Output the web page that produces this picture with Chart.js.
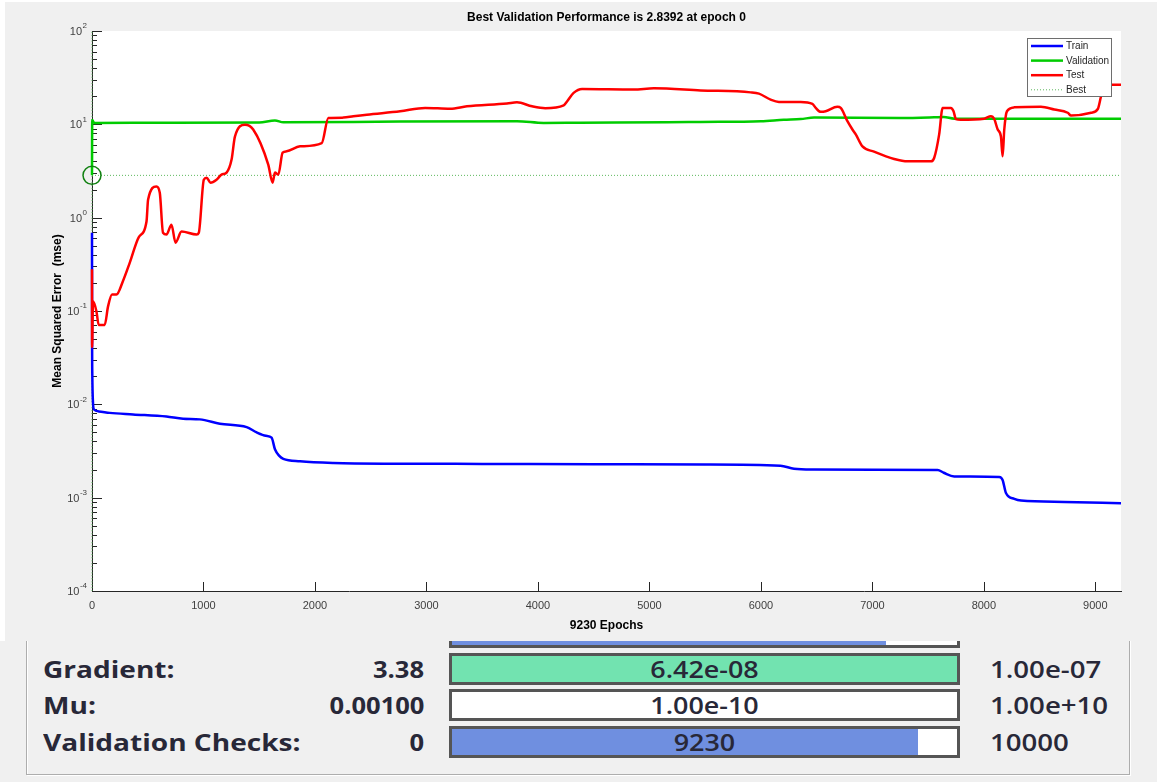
<!DOCTYPE html>
<html>
<head>
<meta charset="utf-8">
<title>Neural Network Training - Performance</title>
<script src="https://cdn.jsdelivr.net/npm/chart.js@4.4.1/dist/chart.umd.min.js"></script>
<style>
    html, body { margin: 0; padding: 0; background: #fff; }
    body { width: 1165px; height: 782px; position: relative; overflow: hidden; }
    #figure { position: absolute; left: 5px; top: 2px; width: 1152px; height: 639px; background: #f0f0f0; }
    #panel {
        position: absolute; left: 0; top: 641px; width: 1157px; height: 141px;
        background: #f0f0f0; overflow: hidden;
        font-family: "Open Sans", "Noto Sans", sans-serif; font-weight: 600; font-size: 23px; color: #282838;
    }
    .group {
        position: absolute; left: 26px; top: -40px; width: 1104px; height: 174px; box-sizing: border-box;
        border: 1px solid #adadad; box-shadow: inset 1px 1px 0 #fff, 1px 1px 0 #fff;
    }
    .row { position: absolute; left: 0; width: 1157px; height: 32px; line-height: 32px; }
    .row .t { position: absolute; top: 0; white-space: nowrap; }
    .row .lbl { left: 43px; font-weight: 700; transform: scaleX(1.22); transform-origin: left center; }
    .row .val { right: 733px; font-weight: 700; transform: scaleX(1.11); transform-origin: right center; }
    .row .goal { left: 990px; transform: scaleX(1.2); transform-origin: left center; }
    .bar {
        position: absolute; left: 449px; top: 0; width: 511px; height: 32px; box-sizing: border-box;
        border: 3px solid #555; background: #fff; overflow: hidden;
    }
    .bar .fill { position: absolute; left: 0; top: 0; bottom: 0; }
    .bar .cur {
        position: absolute; left: 0; right: 0; top: 0; line-height: 26px; text-align: center;
        font-weight: 600; transform: scaleX(1.17);
    }
</style>
</head>
<body>
<div id="figure"><canvas id="chart-perform" width="1152" height="639"></canvas></div>
<div id="panel"><div class="group"></div></div>

<script>
// ---- training record (epoch, mse) ----
const trainEpochs = [0, 1, 3, 8, 18, 60, 159, 368, 668, 817, 967, 1147, 1387, 1477, 1560, 1611, 1641, 1680, 1716,
    1866, 2165, 2764, 3500, 4500, 5500, 6175, 6297, 6477, 7000, 7585, 7640, 7734, 8138, 8168, 8198, 8273, 8333, 8722, 9230];
const trainMse = [0.69, 0.05, 0.02, 0.011, 0.0088, 0.0084, 0.0081, 0.0078, 0.0074, 0.0070, 0.0069, 0.0062, 0.0057, 0.0050,
    0.0046, 0.0044, 0.0033, 0.0028, 0.0026, 0.00245, 0.00235, 0.00231, 0.0023, 0.00228, 0.00227, 0.0022, 0.00204, 0.0020,
    0.00199, 0.00198, 0.00185, 0.00169, 0.00167, 0.00155, 0.00112, 0.00097, 0.00093, 0.0009, 0.00087];

const validEpochs = [0, 2, 20, 700, 1500, 1641, 1716, 2764, 3812, 4051, 4381, 5160, 5459, 6000, 6205, 6357, 6477,
    7255, 7554, 7640, 7734, 8500, 9230];
const validMse = [2.8392, 11.1, 10.35, 10.4, 10.45, 11.0, 10.5, 10.7, 10.8, 10.35, 10.4, 10.5, 10.6, 10.8, 11.2, 11.4,
    11.8, 11.7, 11.9, 12.0, 11.5, 11.5, 11.5];

const testEpochs = [0, 1, 9, 40, 60, 114, 144, 180, 219, 278, 339, 420, 489, 503, 578, 608, 637, 668, 713, 749, 803,
    938, 958, 1003, 1028, 1063, 1117, 1162, 1207, 1252, 1282, 1372, 1446, 1581, 1620, 1641, 1671, 1710, 1746, 1866,
    2061, 2120, 2255, 2344, 2465, 2764, 2988, 3213, 3363, 3722, 3812, 3947, 4066, 4231, 4261, 4320, 4396, 4859, 5039,
    5459, 5908, 5982, 6087, 6162, 6357, 6462, 6492, 6536, 6581, 6686, 6716, 6776, 6821, 6851, 6911, 7015, 7195, 7315,
    7524, 7554, 7599, 7630, 7704, 7728, 7749, 7793, 8003, 8063, 8093, 8124, 8153, 8168, 8183, 8207, 8273, 8512, 8632,
    8752, 8782, 8962, 9022, 9051, 9081, 9230];
const testMse = [0.28, 0.041, 0.127, 0.099, 0.071, 0.071, 0.112, 0.15, 0.15, 0.21, 0.33, 0.62, 0.91, 1.56, 2.16, 1.85,
    0.69, 0.66, 0.84, 0.54, 0.71, 0.66, 0.69, 2.55, 2.68, 2.37, 2.55, 2.89, 3.04, 4.19, 7.4, 9.9, 8.8, 3.7, 2.37, 3.04,
    2.89, 4.97, 5.14, 5.81, 6.3, 11.7, 11.8, 12.2, 12.7, 13.8, 15.0, 14.7, 15.6, 16.7, 17.2, 15.6, 14.9, 16.0, 17.6,
    21.7, 23.9, 23.6, 24.3, 23.1, 22.0, 21.3, 18.4, 17.4, 17.4, 16.6, 15.0, 13.6, 13.8, 15.4, 15.0, 10.8, 8.8, 7.8,
    5.8, 5.1, 4.26, 4.01, 4.01, 4.36, 7.8, 15.0, 15.0, 13.8, 11.4, 11.2, 11.5, 12.2, 11.4, 8.8, 7.4, 4.54, 8.8, 13.8,
    15.2, 15.4, 14.4, 13.3, 12.4, 13.3, 14.6, 20.0, 26.6, 26.6];

const bestEpoch = 0;
const bestPerf = 2.8392;
const totalEpochs = 9230;

// axis ticks
const xTicks = [0, 1000, 2000, 3000, 4000, 5000, 6000, 7000, 8000, 9000];
const yDecades = [-4, -3, -2, -1, 0, 1, 2];

// nntraintool progress rows
const panelNames = ['Performance:', 'Gradient:', 'Mu:', 'Validation Checks:'];
const panelStart = ['0.693', '3.38', '0.00100', '0'];
const panelCurrent = ['0.000866', '6.42e-08', '1.00e-10', '9230'];
const panelTarget = ['0.00', '1.00e-07', '1.00e+10', '10000'];
const panelFill = [0.86, 1.0, 0.0, 9230 / 10000];
const panelColors = ['#6f8fe0', '#72e3b0', '#ffffff', '#6f8fe0'];
const panelTops = [-25, 12, 48, 85];

const FONT = '"Liberation Sans", Arial, Helvetica, sans-serif';
Chart.defaults.font.family = FONT;

function toPoints(xs, ys) {
    return xs.map((x, i) => ({ x: x, y: ys[i] }));
}

// putih di area plot, abu-abu di luar (dari div)
const plotBackground = {
    id: 'plotBackground',
    beforeDraw(chart) {
        const { ctx, chartArea: a } = chart;
        ctx.save();
        ctx.fillStyle = '#ffffff';
        ctx.fillRect(a.left, a.top, a.right - a.left, a.bottom - a.top);
        ctx.restore();
    }
};

// matlab style ticks pointing into the axes
const innerTicks = {
    id: 'innerTicks',
    beforeDatasetsDraw(chart) {
        const { ctx, chartArea: a, scales: { x, y } } = chart;
        ctx.save();
        ctx.strokeStyle = '#262626';
        ctx.lineWidth = 1;
        ctx.beginPath();
        xTicks.forEach(v => {
            const px = Math.round(x.getPixelForValue(v)) + 0.5;
            ctx.moveTo(px, a.bottom);
            ctx.lineTo(px, a.bottom - 9);
        });
        yDecades.forEach((d, i) => {
            const py = Math.round(y.getPixelForValue(Math.pow(10, d))) + 0.5;
            ctx.moveTo(a.left, py);
            ctx.lineTo(a.left + 10, py);
            if (i < yDecades.length - 1) {
                for (let m = 2; m <= 9; m++) {
                    const pm = Math.round(y.getPixelForValue(m * Math.pow(10, d))) + 0.5;
                    ctx.moveTo(a.left, pm);
                    ctx.lineTo(a.left + 5, pm);
                }
            }
        });
        ctx.stroke();
        ctx.restore();
    }
};

// 10^n labels, title and legend box
const decorations = {
    id: 'decorations',
    afterDraw(chart) {
        const { ctx, chartArea: a, scales: { y } } = chart;
        ctx.save();

        // y tick labels with superscript exponent
        ctx.fillStyle = '#404040';
        ctx.textBaseline = 'middle';
        ctx.textAlign = 'right';
        const xr = a.left - 5;
        yDecades.forEach(d => {
            const py = y.getPixelForValue(Math.pow(10, d));
            ctx.font = '8px ' + FONT;
            const exp = String(d);
            const w = ctx.measureText(exp).width;
            ctx.fillText(exp, xr, py - 5);
            ctx.font = '11px ' + FONT;
            ctx.fillText('10', xr - w - 0.5, py + 1);
        });

        // title centered above the axes
        ctx.fillStyle = '#000';
        ctx.textAlign = 'center';
        ctx.font = 'bold 12px ' + FONT;
        ctx.fillText('Best Validation Performance is ' + bestPerf + ' at epoch ' + bestEpoch, (a.left + a.right) / 2, 15.5);

        // legend
        const items = chart.data.datasets.filter(ds => ds.inLegend);
        const bx = a.right - 94, by = a.top + 7, bw = 85, bh = 59;
        ctx.fillStyle = '#fff';
        ctx.fillRect(bx, by, bw, bh);
        ctx.strokeStyle = '#6e6e6e';
        ctx.lineWidth = 1;
        ctx.strokeRect(bx + 0.5, by + 0.5, bw - 1, bh - 1);
        ctx.textAlign = 'left';
        ctx.font = '10px ' + FONT;
        items.forEach((ds, i) => {
            const ly = by + 8 + i * 14.6;
            ctx.save();
            ctx.strokeStyle = ds.borderColor;
            ctx.lineWidth = ds.borderDash ? 1 : 2.5;
            ctx.setLineDash(ds.borderDash || []);
            ctx.beginPath();
            ctx.moveTo(bx + 4, ly);
            ctx.lineTo(bx + 36, ly);
            ctx.stroke();
            ctx.restore();
            ctx.fillStyle = '#262626';
            ctx.fillText(ds.label, bx + 39, ly + 0.5);
        });
        ctx.restore();
    }
};

const ctx = document.getElementById('chart-perform');
new Chart(ctx.getContext('2d'), {
    type: 'line',
    data: {
        datasets: [
            {
                label: 'Train', inLegend: true,
                data: toPoints(trainEpochs, trainMse),
                borderColor: '#0000ff', borderWidth: 2.5, order: 3
            },
            {
                label: 'Validation', inLegend: true,
                data: toPoints(validEpochs, validMse),
                borderColor: '#00cc00', borderWidth: 2.5, order: 2
            },
            {
                label: 'Test', inLegend: true,
                data: toPoints(testEpochs, testMse),
                borderColor: '#ff0000', borderWidth: 2.5, order: 1
            },
            {
                label: 'Best', inLegend: true,
                data: [{ x: 0, y: bestPerf }, { x: totalEpochs, y: bestPerf }],
                borderColor: '#5cb85c', borderWidth: 1, borderDash: [1, 2], order: 4
            },
            {
                label: 'Best epoch',
                data: [{ x: bestEpoch, y: 1e-4 }, { x: bestEpoch, y: 1e2 }],
                borderColor: '#5cb85c', borderWidth: 1, borderDash: [1, 2], order: 4
            },
            {
                label: 'Best point',
                data: [{ x: bestEpoch, y: bestPerf }],
                showLine: false, pointRadius: 9, pointBorderWidth: 1.5,
                pointBorderColor: '#108010', pointBackgroundColor: 'rgba(0,0,0,0)', order: 0
            }
        ]
    },
    options: {
        responsive: false,
        animation: false,
        layout: { padding: { left: 0, right: 36, top: 29, bottom: 0 } },
        elements: {
            point: { radius: 0, hoverRadius: 0 },
            line: { cubicInterpolationMode: 'monotone' }
        },
        datasets: { line: { clip: false } },
        plugins: { legend: { display: false }, title: { display: false }, tooltip: { enabled: false } },
        scales: {
            x: {
                type: 'linear', min: 0, max: totalEpochs,
                afterBuildTicks: scale => { scale.ticks = xTicks.map(v => ({ value: v })); },
                afterFit: scale => { scale.height = 50; },
                grid: { display: false, drawTicks: false },
                border: { display: true, color: '#262626', width: 1 },
                ticks: {
                    color: '#404040', font: { size: 11 }, padding: 8, autoSkip: false, maxRotation: 0,
                    callback: value => String(value)
                },
                title: {
                    display: true, text: totalEpochs + ' Epochs', color: '#000',
                    font: { size: 12, weight: 'bold' }, padding: { top: 0, bottom: 8 }
                }
            },
            y: {
                type: 'logarithmic', min: 1e-4, max: 1e2,
                afterBuildTicks: scale => { scale.ticks = yDecades.map(d => ({ value: Math.pow(10, d) })); },
                afterFit: scale => { scale.width = 87; },
                grid: { display: false, drawTicks: false },
                border: { display: true, color: '#262626', width: 1 },
                ticks: { display: false },
                title: {
                    display: true, text: 'Mean Squared Error  (mse)', color: '#000',
                    font: { size: 12, weight: 'bold' }, padding: { top: 45, bottom: 0 }
                }
            }
        }
    },
    plugins: [plotBackground, innerTicks, decorations]
});

// baris progress di bawah grafik
const panel = document.getElementById('panel');
panelNames.forEach((name, i) => {
    const row = document.createElement('div');
    row.className = 'row';
    row.style.top = panelTops[i] + 'px';
    row.innerHTML =
        '<span class="t lbl">' + name + '</span>' +
        '<span class="t val">' + panelStart[i] + '</span>' +
        '<div class="bar"><div class="fill" style="width:' + (panelFill[i] * 100) + '%;background:' + panelColors[i] + '"></div>' +
        '<div class="cur">' + panelCurrent[i] + '</div></div>' +
        '<span class="t goal">' + panelTarget[i] + '</span>';
    panel.appendChild(row);
});
</script>
</body>
</html>
